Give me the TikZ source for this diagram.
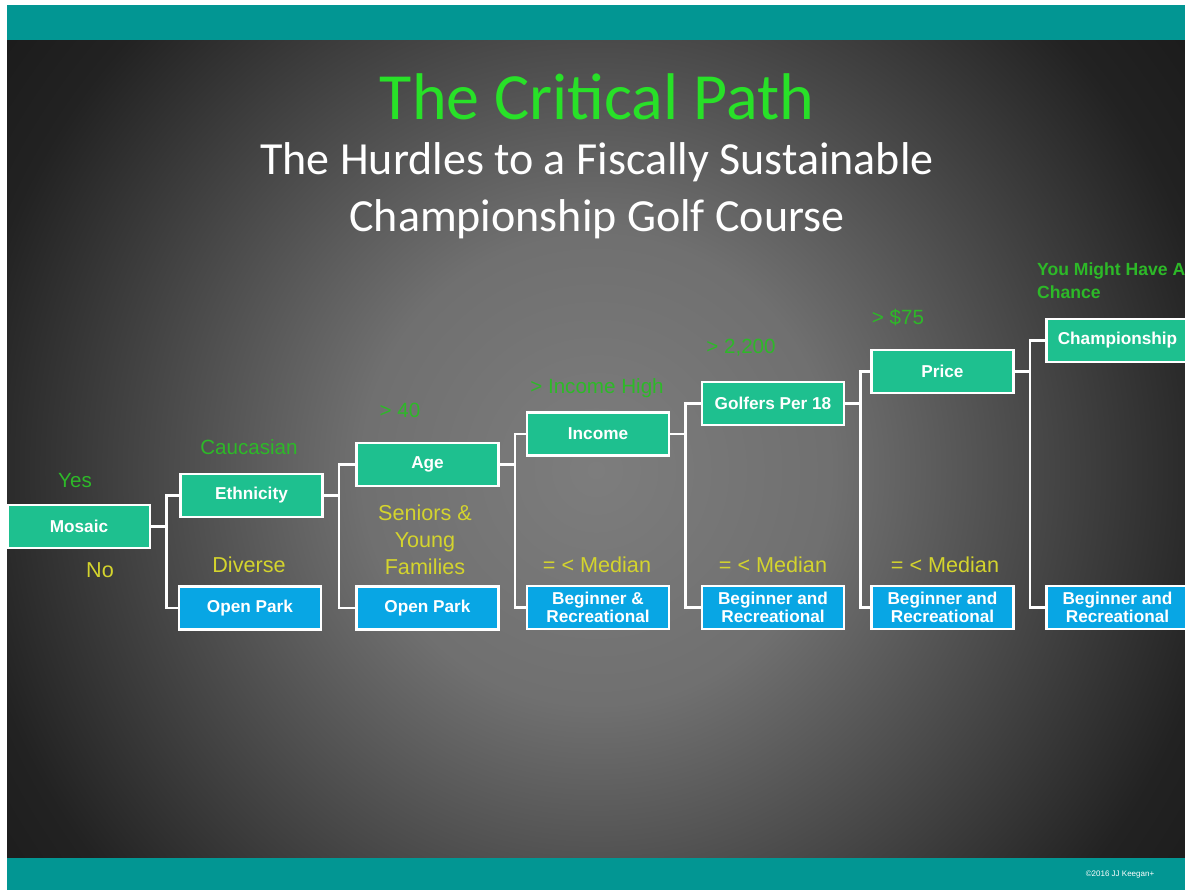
\documentclass[tikz,border=0pt]{standalone}
\usepackage{fontspec}
\setmainfont{Liberation Sans}
\newfontfamily\headfont{Carlito}
\usetikzlibrary{positioning}

\definecolor{BandTeal}{RGB}{2,150,147}
\definecolor{BoxGreen}{RGB}{30,192,143}
\definecolor{BoxBlue}{RGB}{8,166,228}
\definecolor{LblGreen}{RGB}{45,185,40}
\definecolor{LblYellow}{RGB}{212,212,45}
\definecolor{TitleGreen}{RGB}{40,225,40}
\definecolor{SlideMid}{RGB}{125,125,125}
\definecolor{SlideDark}{RGB}{14,14,14}

% soft grey glow behind the tree
\pgfdeclareradialshading{slideglow}{\pgfpoint{0bp}{0bp}}{%
  color(0bp)=(SlideMid); color(10bp)=(SlideMid!88!SlideDark);
  color(27bp)=(SlideDark!82!SlideMid); color(40bp)=(SlideDark); color(50bp)=(SlideDark)}

\begin{document}
\begin{tikzpicture}[
    x=0.5pt, y=-0.5pt,
    stage/.style={draw=white, line width=1.4pt, minimum width=71pt, minimum height=21.5pt,
                  inner sep=1pt, align=center, text=white,
                  font=\bfseries\fontsize{8.6}{9.2}\selectfont},
    pass/.style={stage, fill=BoxGreen},
    fail/.style={stage, fill=BoxBlue},
    yeslbl/.style={text=LblGreen, font=\fontsize{10.3}{11}\selectfont},
    nolbl/.style={text=LblYellow, font=\fontsize{10.8}{13.5}\selectfont, align=center},
    link/.style={draw=white, line width=1.4pt}
]
\useasboundingbox (0,0) rectangle (1185,890);
\clip (0,0) rectangle (1185,890);
\fill[white] (0,0) rectangle (1185,890);
\begin{scope}
\clip (7,40) rectangle (1185,858);
\shade[shading=slideglow] (7,-120) rectangle (1185,1060);
\end{scope}
\fill[BandTeal] (7,5) rectangle (1185,40);
\fill[BandTeal] (7,858) rectangle (1185,890);

% headings
\node[text=TitleGreen, font=\headfont\fontsize{33}{36}\selectfont] (title) at (597,97) {The Critical Path};
\node[text=white, align=center, font=\headfont\fontsize{23}{28.5}\selectfont] (subtitle) at (597,191)
  {The Hurdles to a Fiscally Sustainable\\Championship Golf Course};

% decision boxes
\node[pass] (mosaic) at (79,526.5) {Mosaic};
\node[pass] (ethn) at (251.5,495.5) {Ethnicity};
\node[fail] (park1) at (250,608) {Open Park};
\node[pass] (age) at (427.5,464.5) {Age};
\node[fail] (park2) at (427.5,608) {Open Park};
\node[pass] (income) at (598,434) {Income};
\node[fail] (rec1) at (598,607.5) {Beginner \&\\Recreational};
\node[pass] (golfers) at (773,403.5) {Golfers Per 18};
\node[fail] (rec2) at (773,607.5) {Beginner and\\Recreational};
\node[pass] (price) at (942.5,371.5) {Price};
\node[fail] (rec3) at (942.5,607.5) {Beginner and\\Recreational};
\node[pass] (champ) at (1117.5,340.5) {Championship};
\node[fail] (rec4) at (1117.5,607.5) {Beginner and\\Recreational};

% branch lines
\foreach \from/\up/\down in {mosaic/ethn/park1, ethn/age/park2, age/income/rec1,
                             income/golfers/rec2, golfers/price/rec3, price/champ/rec4} {
  \draw[link] (\from.east) -- ++(15,0) |- (\up.west);
  \draw[link] (\from.east) -- ++(15,0) |- (\down.west);
}

% branch labels
\node[yeslbl] (yes) at (75,481) {Yes};
\node[nolbl] (no) at (100,570) {No};
\node[yeslbl] (cauc) at (249,447) {Caucasian};
\node[nolbl] (diverse) at (249,565) {Diverse};
\node[yeslbl] (over40) at (400,410) {> 40};
\node[nolbl] (seniors) at (425,540) {Seniors \&\\Young\\Families};
\node[yeslbl] (high) at (597,388) {> Income High};
\node[nolbl] (med1) at (597,565) {= < Median};
\node[yeslbl] (over2200) at (741,348) {> 2,200};
\node[nolbl] (med2) at (773,565) {= < Median};
\node[yeslbl] (over75) at (898,318) {> \$75};
\node[nolbl] (med3) at (945,565) {= < Median};
\node[yeslbl, anchor=west, align=left, font=\bfseries\fontsize{8.8}{11.5}\selectfont] (chance) at (1030,281)
  {You Might Have A\\Chance};

\node[text=white, font=\fontsize{4}{5}\selectfont] (credit) at (1120,875) {\textcopyright2016 JJ Keegan+};
\end{tikzpicture}
\end{document}
